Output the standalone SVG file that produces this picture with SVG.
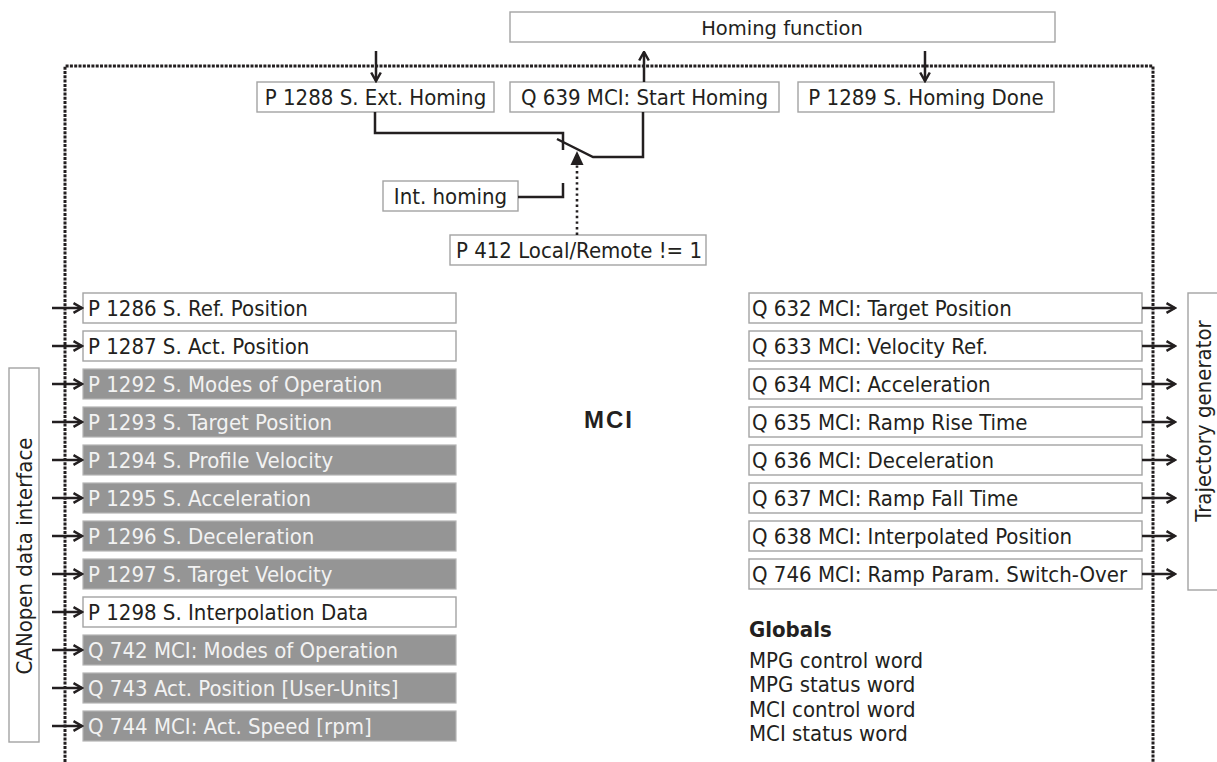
<svg xmlns="http://www.w3.org/2000/svg" width="1217" height="762" viewBox="0 0 1217 762">
  <style>
    .lbl { font-family: "DejaVu Sans Condensed", "DejaVu Sans", sans-serif; font-stretch: condensed; font-size: 22px; fill: #231f20; }
    .lbl-w { fill: #f2f2f2; }
    .mid { text-anchor: middle; }
    .wide { font-family: "DejaVu Sans", sans-serif; font-stretch: normal; font-size: 19.5px; fill: #231f20; }
    .box { fill: #ffffff; stroke: #a3a3a3; stroke-width: 1.4; }
    .gbox { fill: #959595; stroke: #b4b4b4; stroke-width: 1.2; }
    .wire { fill: none; stroke: #231f20; stroke-width: 2.5; }
    .frame { fill: none; stroke: #231f20; stroke-width: 3; stroke-dasharray: 3 1.3; }
    .sense { fill: none; stroke: #231f20; stroke-width: 2.6; stroke-dasharray: 2.4 3.2; }
    .title { font-family: "Liberation Sans", Arial, sans-serif; font-weight: bold; font-size: 24px; letter-spacing: 2px; fill: #231f20; }
    .bold { font-weight: bold; }
  </style>
  <defs>
    <marker id="open" viewBox="0 0 12 12" refX="10.5" refY="6" markerWidth="12" markerHeight="12" markerUnits="userSpaceOnUse" orient="auto">
      <path d="M2,1.2 L10.5,6 L2,10.8" fill="none" stroke="#231f20" stroke-width="2.5"/>
    </marker>
  </defs>

  <rect width="1217" height="762" fill="#ffffff"/>

  <!-- MCI block boundary -->
  <path id="mci-frame" class="frame" d="M65,762 V66 H1153 V762"/>

  <!-- Homing function -->
  <g id="homing-function">
    <rect class="box" x="510" y="12" width="545" height="30"/>
    <text class="wide mid" x="782" y="35">Homing function</text>
  </g>
  <g id="p1288">
    <rect class="box" x="257" y="82" width="237" height="30"/>
    <text class="lbl mid" x="375.5" y="105">P 1288 S. Ext. Homing</text>
  </g>
  <g id="q639">
    <rect class="box" x="510" y="82" width="269" height="30"/>
    <text class="lbl mid" x="644.5" y="105">Q 639 MCI: Start Homing</text>
  </g>
  <g id="p1289">
    <rect class="box" x="798" y="82" width="256" height="30"/>
    <text class="lbl mid" x="926" y="105">P 1289 S. Homing Done</text>
  </g>
  <g id="int-homing">
    <rect class="box" x="383" y="181" width="135" height="30"/>
    <text class="lbl mid" x="450.5" y="204">Int. homing</text>
  </g>
  <g id="p412">
    <rect class="box" x="450" y="235" width="256" height="30"/>
    <text class="lbl mid" x="579" y="258">P 412 Local/Remote != 1</text>
  </g>

  <!-- MCI title and globals -->
  <g id="mci-title">
    <text class="title mid" x="609" y="428">MCI</text>
  </g>
  <g id="globals">
    <text class="lbl bold" x="749" y="637">Globals</text>
    <text class="lbl" x="749" y="668">MPG control word</text>
    <text class="lbl" x="749" y="692">MPG status word</text>
    <text class="lbl" x="749" y="717">MCI control word</text>
    <text class="lbl" x="749" y="741">MCI status word</text>
  </g>

  <!-- CANopen side -->
  <g id="canopen">
    <rect class="box" x="9" y="368" width="30" height="374"/>
    <text class="lbl mid" transform="translate(32,556) rotate(-90)">CANopen data interface</text>
  </g>

  <!-- Trajectory generator side -->
  <g id="trajectory">
    <rect class="box" x="1188" y="293" width="31" height="297"/>
    <text class="lbl mid" transform="translate(1211,421) rotate(-90)">Trajectory generator</text>
  </g>

  <!-- CANopen signals -->
  <g id="p1286"><rect class="box" x="83" y="293" width="373" height="30"/><text class="lbl" x="88" y="316">P 1286 S. Ref. Position</text></g>
  <g id="p1287"><rect class="box" x="83" y="331" width="373" height="30"/><text class="lbl" x="88" y="354">P 1287 S. Act. Position</text></g>
  <g id="p1292"><rect class="gbox" x="83" y="369" width="373" height="30"/><text class="lbl lbl-w" x="88" y="392">P 1292 S. Modes of Operation</text></g>
  <g id="p1293"><rect class="gbox" x="83" y="407" width="373" height="30"/><text class="lbl lbl-w" x="88" y="430">P 1293 S. Target Position</text></g>
  <g id="p1294"><rect class="gbox" x="83" y="445" width="373" height="30"/><text class="lbl lbl-w" x="88" y="468">P 1294 S. Profile Velocity</text></g>
  <g id="p1295"><rect class="gbox" x="83" y="483" width="373" height="30"/><text class="lbl lbl-w" x="88" y="506">P 1295 S. Acceleration</text></g>
  <g id="p1296"><rect class="gbox" x="83" y="521" width="373" height="30"/><text class="lbl lbl-w" x="88" y="544">P 1296 S. Deceleration</text></g>
  <g id="p1297"><rect class="gbox" x="83" y="559" width="373" height="30"/><text class="lbl lbl-w" x="88" y="582">P 1297 S. Target Velocity</text></g>
  <g id="p1298"><rect class="box" x="83" y="597" width="373" height="30"/><text class="lbl" x="88" y="620">P 1298 S. Interpolation Data</text></g>
  <g id="q742"><rect class="gbox" x="83" y="635" width="373" height="30"/><text class="lbl lbl-w" x="88" y="658">Q 742 MCI: Modes of Operation</text></g>
  <g id="q743"><rect class="gbox" x="83" y="673" width="373" height="30"/><text class="lbl lbl-w" x="88" y="696">Q 743 Act. Position [User-Units]</text></g>
  <g id="q744"><rect class="gbox" x="83" y="711" width="373" height="30"/><text class="lbl lbl-w" x="88" y="734">Q 744 MCI: Act. Speed [rpm]</text></g>

  <!-- Trajectory generator signals -->
  <g id="q632"><rect class="box" x="749" y="293" width="393" height="30"/><text class="lbl" x="752" y="316">Q 632 MCI: Target Position</text></g>
  <g id="q633"><rect class="box" x="749" y="331" width="393" height="30"/><text class="lbl" x="752" y="354">Q 633 MCI: Velocity Ref.</text></g>
  <g id="q634"><rect class="box" x="749" y="369" width="393" height="30"/><text class="lbl" x="752" y="392">Q 634 MCI: Acceleration</text></g>
  <g id="q635"><rect class="box" x="749" y="407" width="393" height="30"/><text class="lbl" x="752" y="430">Q 635 MCI: Ramp Rise Time</text></g>
  <g id="q636"><rect class="box" x="749" y="445" width="393" height="30"/><text class="lbl" x="752" y="468">Q 636 MCI: Deceleration</text></g>
  <g id="q637"><rect class="box" x="749" y="483" width="393" height="30"/><text class="lbl" x="752" y="506">Q 637 MCI: Ramp Fall Time</text></g>
  <g id="q638"><rect class="box" x="749" y="521" width="393" height="30"/><text class="lbl" x="752" y="544">Q 638 MCI: Interpolated Position</text></g>
  <g id="q746"><rect class="box" x="749" y="559" width="393" height="30"/><text class="lbl" x="752" y="582">Q 746 MCI: Ramp Param. Switch-Over</text></g>

  <!-- Connectors -->
  <g id="connectors">
    <!-- homing signals -->
    <path class="wire" d="M376,51 V81" marker-end="url(#open)"/>
    <path class="wire" d="M644,82 V52" marker-end="url(#open)"/>
    <path class="wire" d="M925,51 V81" marker-end="url(#open)"/>
    <!-- local/remote switch -->
    <path class="wire" d="M375,112 V133 H563 V150"/>
    <path class="wire" d="M518,197 H563 V183"/>
    <path class="wire" d="M557,139 L593,157 H643 V112"/>
    <path class="sense" d="M577,235 V165"/>
    <polygon points="577,151 570.5,165 583.5,165" fill="#231f20"/>
    <!-- CANopen inputs -->
    <path class="wire" d="M52,308 H82" marker-end="url(#open)"/>
    <path class="wire" d="M52,346 H82" marker-end="url(#open)"/>
    <path class="wire" d="M52,384 H82" marker-end="url(#open)"/>
    <path class="wire" d="M52,422 H82" marker-end="url(#open)"/>
    <path class="wire" d="M52,460 H82" marker-end="url(#open)"/>
    <path class="wire" d="M52,498 H82" marker-end="url(#open)"/>
    <path class="wire" d="M52,536 H82" marker-end="url(#open)"/>
    <path class="wire" d="M52,574 H82" marker-end="url(#open)"/>
    <path class="wire" d="M52,612 H82" marker-end="url(#open)"/>
    <path class="wire" d="M52,650 H82" marker-end="url(#open)"/>
    <path class="wire" d="M52,688 H82" marker-end="url(#open)"/>
    <path class="wire" d="M52,726 H82" marker-end="url(#open)"/>
    <!-- trajectory outputs -->
    <path class="wire" d="M1142,308 H1175" marker-end="url(#open)"/>
    <path class="wire" d="M1142,346 H1175" marker-end="url(#open)"/>
    <path class="wire" d="M1142,384 H1175" marker-end="url(#open)"/>
    <path class="wire" d="M1142,422 H1175" marker-end="url(#open)"/>
    <path class="wire" d="M1142,460 H1175" marker-end="url(#open)"/>
    <path class="wire" d="M1142,498 H1175" marker-end="url(#open)"/>
    <path class="wire" d="M1142,536 H1175" marker-end="url(#open)"/>
    <path class="wire" d="M1142,574 H1175" marker-end="url(#open)"/>
  </g>
</svg>
